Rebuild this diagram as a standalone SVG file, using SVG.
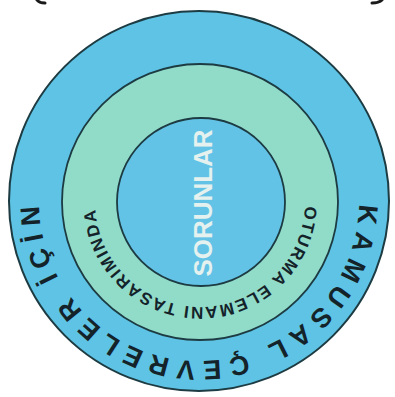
<svg xmlns="http://www.w3.org/2000/svg" width="395" height="397" viewBox="0 0 395 397">
<style>
.ring{stroke:#1d3b42;}
.outer-t{font-family:"Liberation Sans",Arial,sans-serif;font-weight:bold;font-size:27px;fill:#14232a;letter-spacing:7.2px;}
.mid-t{font-family:"Liberation Sans",Arial,sans-serif;font-weight:bold;font-size:17px;fill:#14232a;letter-spacing:1.6px;}
.in-t{font-family:"Liberation Sans",Arial,sans-serif;font-weight:bold;font-size:26px;fill:#e4f1ee;}
</style>
<defs>
<path id="pOuter" d="M359,201 A160,160 0 1 1 39,201 A160,160 0 1 1 359,201"/>
<path id="pMid" d="M305,202 A105,105 0 1 1 95,202 A105,105 0 1 1 305,202"/>
</defs>
<rect width="395" height="397" fill="#ffffff"/>
<g id="brackets" fill="none" stroke="#1a1a1a" stroke-width="3" stroke-linecap="round">
<path d="M37,0 Q39,3 45,3"/>
<path d="M372,3 Q379,3 382,0"/>
</g>
<g id="outer">
<circle class="ring" cx="199" cy="201" r="190" fill="#5ec3e4" stroke-width="2"/>
<text class="outer-t"><textPath href="#pOuter" startOffset="3">KAMUSAL ÇEVRELER İÇİN</textPath></text>
</g>
<g id="middle">
<circle class="ring" cx="200" cy="202" r="138" fill="#91dbc9" stroke-width="1.8"/>
<text class="mid-t"><textPath href="#pMid" startOffset="4">OTURMA ELEMANI TASARIMINDA</textPath></text>
</g>
<g id="inner">
<circle class="ring" cx="201" cy="202" r="84" fill="#63c3e6" stroke-width="1.8"/>
<text class="in-t" transform="translate(212,203) rotate(-90)" text-anchor="middle" textLength="147" lengthAdjust="spacingAndGlyphs">SORUNLAR</text>
</g>
</svg>
